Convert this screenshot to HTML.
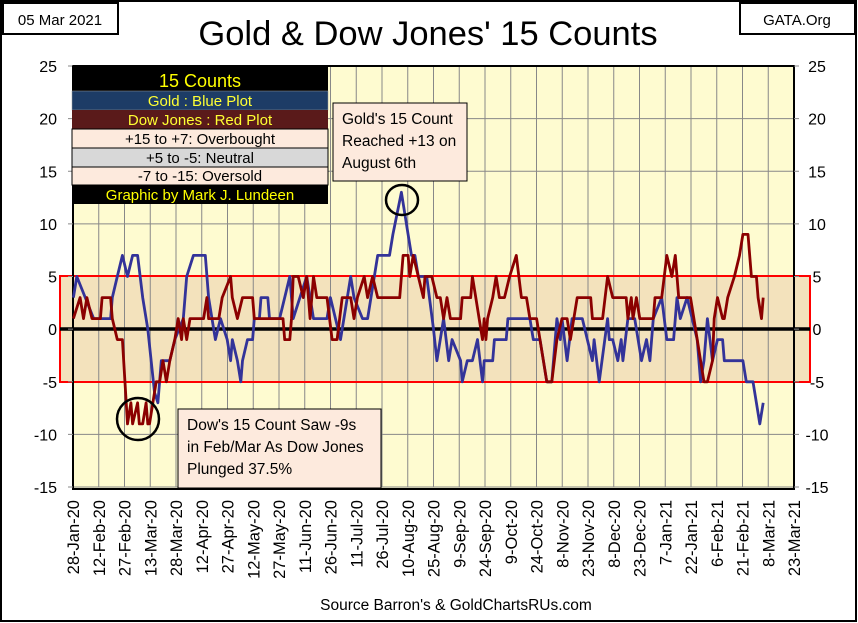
<!DOCTYPE html>
<html><head><meta charset="utf-8"><style>
body{margin:0;background:#fff;}
svg{display:block;font-family:"Liberation Sans",Arial,sans-serif;}
</style></head><body>
<svg id="c" width="858" height="623" viewBox="0 0 858 623">
<rect x="1" y="1" width="855" height="620" fill="#fff" stroke="#000" stroke-width="2"/>
<rect x="3" y="3" width="115" height="31" fill="#fff" stroke="#000" stroke-width="2"/>
<text x="60" y="25" font-size="15" text-anchor="middle">05 Mar 2021</text>
<rect x="740" y="3" width="115" height="31" fill="#fff" stroke="#000" stroke-width="2"/>
<text x="797" y="25" font-size="15" text-anchor="middle">GATA.Org</text>
<text x="428" y="45" font-size="34.5" text-anchor="middle">Gold &amp; Dow Jones' 15 Counts</text>
<rect x="73" y="66" width="721" height="423" fill="#fefbd0"/>
<g id="grid"></g>
<rect x="60" y="276" width="750" height="106" fill="#f3e2bc" stroke="#ff0000" stroke-width="2"/>
<g id="vgrid2"></g>
<line x1="60" y1="329" x2="810" y2="329" stroke="#000" stroke-width="3.5"/>
<rect x="73" y="66" width="721" height="423" fill="none" stroke="#000" stroke-width="2"/>
<g id="series"></g>
<g id="axes"></g>
<g>
<rect x="72" y="66" width="256" height="25" fill="#000"/>
<text x="200" y="87" font-size="18" fill="#ffff00" text-anchor="middle">15 Counts</text>
<rect x="72" y="91" width="256" height="19" fill="#1d3c66" stroke="#999" stroke-width="0.5"/>
<text x="200" y="106" font-size="15" fill="#ffff33" text-anchor="middle">Gold : Blue Plot</text>
<rect x="72" y="110" width="256" height="19" fill="#5a1a1a"/>
<text x="200" y="125" font-size="15" fill="#ffff33" text-anchor="middle">Dow Jones : Red Plot</text>
<rect x="72" y="129" width="256" height="19" fill="#fdeadd" stroke="#000" stroke-width="1"/>
<text x="200" y="144" font-size="15" text-anchor="middle">+15 to +7: Overbought</text>
<rect x="72" y="148" width="256" height="19" fill="#d8d8d8" stroke="#000" stroke-width="1"/>
<text x="200" y="163" font-size="15" text-anchor="middle">+5 to -5: Neutral</text>
<rect x="72" y="167" width="256" height="18" fill="#fdeadd" stroke="#000" stroke-width="1"/>
<text x="200" y="181" font-size="15" text-anchor="middle">-7 to -15: Oversold</text>
<rect x="72" y="185" width="256" height="19" fill="#000"/>
<text x="200" y="200" font-size="15" fill="#ffff00" text-anchor="middle">Graphic by Mark J. Lundeen</text>
</g>
<g>
<rect x="333" y="103" width="134" height="78" fill="#fdeadd" stroke="#000" stroke-width="1"/>
<text x="342" y="124" font-size="15.5">Gold's 15 Count</text>
<text x="342" y="146" font-size="15.5">Reached +13 on</text>
<text x="342" y="168" font-size="15.5">August 6th</text>
<ellipse cx="402" cy="200" rx="16" ry="15" fill="none" stroke="#000" stroke-width="2.5"/>
</g>
<g>
<rect x="178" y="409" width="203" height="79" fill="#fdeadd" stroke="#000" stroke-width="1"/>
<text x="187" y="430" font-size="15.5">Dow's 15 Count Saw -9s</text>
<text x="187" y="452" font-size="15.5">in Feb/Mar As Dow Jones</text>
<text x="187" y="474" font-size="15.5">Plunged 37.5%</text>
<circle cx="138" cy="419" r="21" fill="none" stroke="#000" stroke-width="2.5"/>
</g>
<text x="456" y="610" font-size="15.5" text-anchor="middle">Source Barron's &amp; GoldChartsRUs.com</text>
</svg>
<script>
const dateLabels=["28-Jan-20","12-Feb-20","27-Feb-20","13-Mar-20","28-Mar-20","12-Apr-20","27-Apr-20","12-May-20","27-May-20","11-Jun-20","26-Jun-20","11-Jul-20","26-Jul-20","10-Aug-20","25-Aug-20","9-Sep-20","24-Sep-20","9-Oct-20","24-Oct-20","8-Nov-20","23-Nov-20","8-Dec-20","23-Dec-20","7-Jan-21","22-Jan-21","6-Feb-21","21-Feb-21","8-Mar-21","23-Mar-21"];
const yTicks=[25,20,15,10,5,0,-5,-10,-15];
const goldDays=[2,4,14,24,25,28,31,34,37,40,43,46,50,52,54,59,62,67,69,73,80,82,86,89,93,95,96,99,101,102,105,108,109,112,113,117,118,124,130,132,136,140,144,152,154,160,166,168,173,176,182,189,191,196,200,202,204,206,211,215,217,221,224,226,231,232,235,238,241,244,245,250,251,258,259,272,274,278,282,285,288,290,291,294,297,303,309,310,313,318,319,321,324,326,327,330,334,338,341,343,345,350,353,357,358,359,361,365,371,373,375,377,380,383,386,387,398,400,404,406,408,410];
const goldValues=[3,5,1,1,3,5,7,5,7,7,3,0,-6,-7,-3,-3,-1,1,5,7,7,3,-1,1,-1,-3,-1,-3,-5,-3,-1,-1,1,1,3,3,1,1,5,1,3,5,1,1,3,-1,5,3,1,1,7,7,9,13,9,7,7,5,5,0,-3,1,-3,-1,-3,-5,-3,-3,-1,-5,-3,-3,-1,-1,1,1,-1,-1,-5,-5,1,-1,1,-3,1,1,-3,-1,-5,1,-1,-1,-3,-1,-3,1,1,-3,-1,-3,1,3,-1,-1,1,3,1,3,-1,-5,-3,1,-3,-1,-1,-3,-3,-5,-5,-7,-9,-7];
const dowDays=[2,6,8,10,13,18,19,24,25,28,31,34,36,37,40,41,43,45,46,47,51,53,55,57,59,62,64,66,67,69,71,73,79,81,82,88,90,95,96,99,102,108,109,126,127,130,131,132,135,138,140,142,144,146,152,155,158,161,166,168,170,174,176,179,182,195,197,200,201,203,206,209,210,214,217,219,221,223,225,231,232,237,238,240,244,245,246,247,250,252,254,257,260,264,267,270,272,276,280,282,285,288,291,294,296,298,300,308,309,315,318,321,329,330,332,333,335,337,345,346,350,353,356,358,360,367,369,373,375,377,380,381,383,386,387,389,393,396,398,401,403,406,407,409,410];
const dowValues=[1,3,1,3,1,1,3,3,1,-1,-1,-9,-7,-9,-7,-9,-9,-7,-9,-9,-5,-5,-3,-5,-3,-1,1,-1,1,-1,1,1,1,3,1,1,3,5,3,1,3,3,1,1,-1,-1,1,5,5,3,5,1,5,3,3,-1,-1,3,3,1,3,5,3,5,3,3,7,7,5,7,5,3,5,5,3,3,1,3,1,1,3,3,5,3,-1,1,-1,1,3,5,3,3,5,7,3,3,1,1,-3,-5,-5,-1,1,1,-1,1,3,3,1,1,5,3,3,1,3,1,3,1,1,3,3,7,5,7,3,3,1,-3,-5,-5,-3,1,3,1,1,3,5,7,9,9,5,5,3,1,3];

const NS='http://www.w3.org/2000/svg';
const PL=73,PR=794,PT=66,PB=487;
const xDay=d=>70+d*1.6907;
const yVal=v=>PT+(25-v)*(PB-PT)/40;
const cellW=(PR-PL)/(dateLabels.length-1);
function mk(tag,attrs,parent){const e=document.createElementNS(NS,tag);for(const k in attrs)e.setAttribute(k,attrs[k]);parent.appendChild(e);return e;}
const grid=document.getElementById('grid'),axes=document.getElementById('axes'),series=document.getElementById('series'),vg2=document.getElementById('vgrid2');
yTicks.forEach(t=>{
  const y=yVal(t);
  const l=mk('line',{x1:PL,x2:PR,y1:y,y2:y,stroke:'#888','stroke-width':1},grid);
  
  
  const tl=mk('text',{x:57,y:y+6,'font-size':16,'text-anchor':'end'},axes);tl.textContent=t;
  
  
  const tr=mk('text',{x:817,y:y+6,'font-size':16,'text-anchor':'middle'},axes);tr.textContent=t;
  
  
  mk('line',{x1:PL-5,x2:PL,y1:y,y2:y,stroke:'#888'},axes);
  mk('line',{x1:PR,x2:PR+5,y1:y,y2:y,stroke:'#888'},axes);
});
dateLabels.forEach((lab,i)=>{
  const x=PL+i*cellW;
  [grid,vg2].forEach(g=>{
    const l=mk('line',{x1:x,x2:x,y1:g===grid?PT:277,y2:g===grid?PB:381,stroke:'#888','stroke-width':1},g);
    
    
  });
  const t=mk('text',{x:0,y:0,'font-size':16.5,'text-anchor':'end',transform:`translate(${x+6},500) rotate(-90)`},axes);
  t.textContent=lab;
  
  
});
function line(days,vals,color,name){
  const pts=days.map((d,i)=>xDay(d).toFixed(1)+','+yVal(vals[i]).toFixed(1)).join(' ');
  const p=mk('polyline',{points:pts,fill:'none',stroke:color,'stroke-width':2.8,'stroke-linejoin':'round'},series);
  
  
}
line(goldDays,goldValues,'#333399','gold-line');
line(dowDays,dowValues,'#8b0000','dow-line');
</script>
</body></html>
